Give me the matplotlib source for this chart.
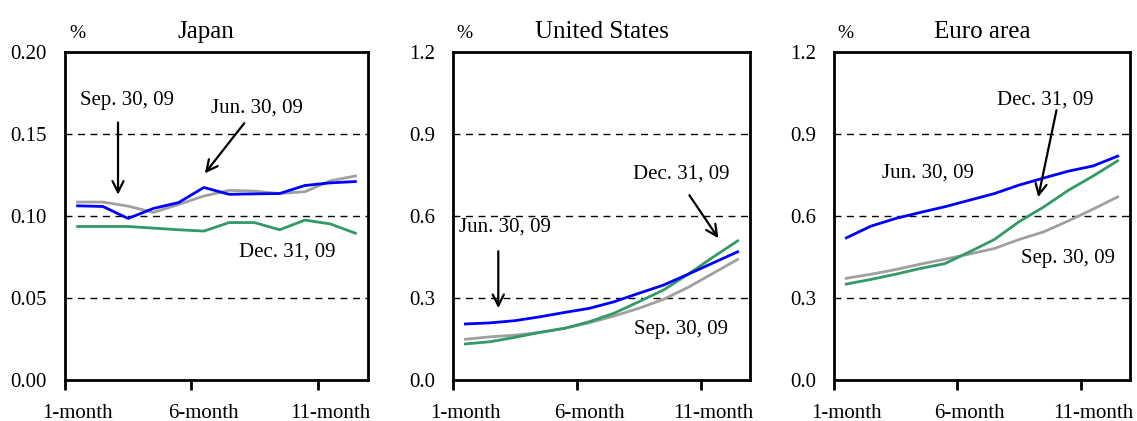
import numpy as np
import matplotlib
matplotlib.use("Agg")
import matplotlib.pyplot as plt

plt.rcParams['font.family'] = ['Liberation Serif', 'DejaVu Serif']

months = np.arange(1, 13)
tick_labels = ["1-month", "6-month", "11-month"]

# Japan
jp_jun = [0.1062, 0.1058, 0.0985, 0.1046, 0.1082, 0.1174, 0.1132, 0.1135, 0.1137, 0.1186, 0.1202, 0.1210]
jp_sep = [0.1085, 0.1085, 0.1060, 0.1022, 0.1070, 0.1122, 0.1156, 0.1152, 0.1137, 0.1148, 0.1214, 0.1244]
jp_dec = [0.0936, 0.0936, 0.0936, 0.0926, 0.0916, 0.0908, 0.0960, 0.0960, 0.0916, 0.0975, 0.0952, 0.0895]

# United States
us_jun = [0.205, 0.209, 0.217, 0.231, 0.247, 0.262, 0.286, 0.317, 0.347, 0.387, 0.428, 0.469]
us_sep = [0.149, 0.158, 0.164, 0.174, 0.189, 0.209, 0.234, 0.262, 0.295, 0.339, 0.390, 0.441]
us_dec = [0.132, 0.140, 0.156, 0.174, 0.189, 0.213, 0.244, 0.286, 0.329, 0.387, 0.449, 0.509]

# Euro area
eu_jun = [0.520, 0.563, 0.591, 0.613, 0.634, 0.658, 0.682, 0.713, 0.739, 0.764, 0.783, 0.819]
eu_sep = [0.372, 0.387, 0.404, 0.424, 0.442, 0.461, 0.481, 0.514, 0.542, 0.582, 0.625, 0.670]
eu_dec = [0.351, 0.368, 0.387, 0.408, 0.426, 0.469, 0.514, 0.579, 0.633, 0.694, 0.746, 0.802]

BLUE = "#0000ff"
GRAY = "#a0a0a0"
GREEN = "#339966"

panels = [
    dict(title="Japan", tx=0.465, jun=jp_jun, sep=jp_sep, dec=jp_dec, ymax=0.20, step=0.05, fmt="%.2f",
         rect=[65/1137, 41/421, 303/1137, 328/421],
         texts=[("Sep. 30, 09", 2.96, 0.1706), ("Jun. 30, 09", 8.1, 0.166), ("Dec. 31, 09", 9.3, 0.078)],
         arrows=[((2.6, 0.157), (2.6, 0.113)), ((7.6, 0.1566), (6.04, 0.126))]),
    dict(title="United States", tx=0.5, jun=us_jun, sep=us_sep, dec=us_dec, ymax=1.2, step=0.3, fmt="%.1f",
         rect=[453/1137, 41/421, 297/1137, 328/421],
         texts=[("Dec. 31, 09", 9.72, 0.753), ("Jun. 30, 09", 2.6, 0.559), ("Sep. 30, 09", 9.72, 0.183)],
         arrows=[((10.05, 0.676), (11.22, 0.519)), ((2.33, 0.471), (2.33, 0.263))]),
    dict(title="Euro area", tx=0.5, jun=eu_jun, sep=eu_sep, dec=eu_dec, ymax=1.2, step=0.3, fmt="%.1f",
         rect=[834/1137, 41/421, 296/1137, 328/421],
         texts=[("Dec. 31, 09", 9.08, 1.023), ("Jun. 30, 09", 4.29, 0.757), ("Sep. 30, 09", 9.97, 0.446)],
         arrows=[((9.52, 0.987), (8.78, 0.669))]),
]

fig = plt.figure(figsize=(11.37, 4.21), dpi=100)

for p in panels:
    ax = fig.add_axes(p["rect"])
    ax.plot(months, p["sep"], color=GRAY, lw=2.0, zorder=3)
    ax.plot(months, p["dec"], color=GREEN, lw=2.0, zorder=3)
    ax.plot(months, p["jun"], color=BLUE, lw=2.0, zorder=4)

    ax.set_xlim(0.5, 12.5)
    ax.set_ylim(0, p["ymax"])
    yt = np.arange(0, p["ymax"] + p["step"] / 2, p["step"])
    ax.set_yticks(yt)
    ax.set_yticklabels([p["fmt"] % v for v in yt])
    for v in yt[1:-1]:
        ax.axhline(v, color="black", lw=1.0, ls=(0, (5, 4)), zorder=1)

    ax.set_xticks([0.5, 5.5, 10.5])
    ax.set_xticklabels([])
    ax.set_xticks([1, 6, 11], minor=True)
    ax.set_xticklabels(tick_labels, minor=True)
    ax.tick_params(axis="x", which="major", direction="out", length=7, width=2)
    ax.tick_params(axis="x", which="minor", length=0, pad=17, labelsize=15)
    ax.tick_params(axis="y", length=0, pad=13, labelsize=15)

    for s in ax.spines.values():
        s.set_linewidth(2)

    ax.set_title(p["title"], fontsize=18, pad=10, x=p["tx"])
    ax.text(0.04, 1.03, "%", transform=ax.transAxes, fontsize=14, ha="center", va="bottom")

    for t, x, y in p["texts"]:
        ax.text(x, y, t, fontsize=15, ha="center", va="center", zorder=5)
    for (x0, y0), (x1, y1) in p["arrows"]:
        ax.annotate("", xy=(x1, y1), xytext=(x0, y0),
                    arrowprops=dict(arrowstyle="->,head_length=0.8,head_width=0.4",
                                    color="black", lw=1.6, shrinkA=0, shrinkB=0), zorder=5)

fig.savefig("out.png", dpi=100)
